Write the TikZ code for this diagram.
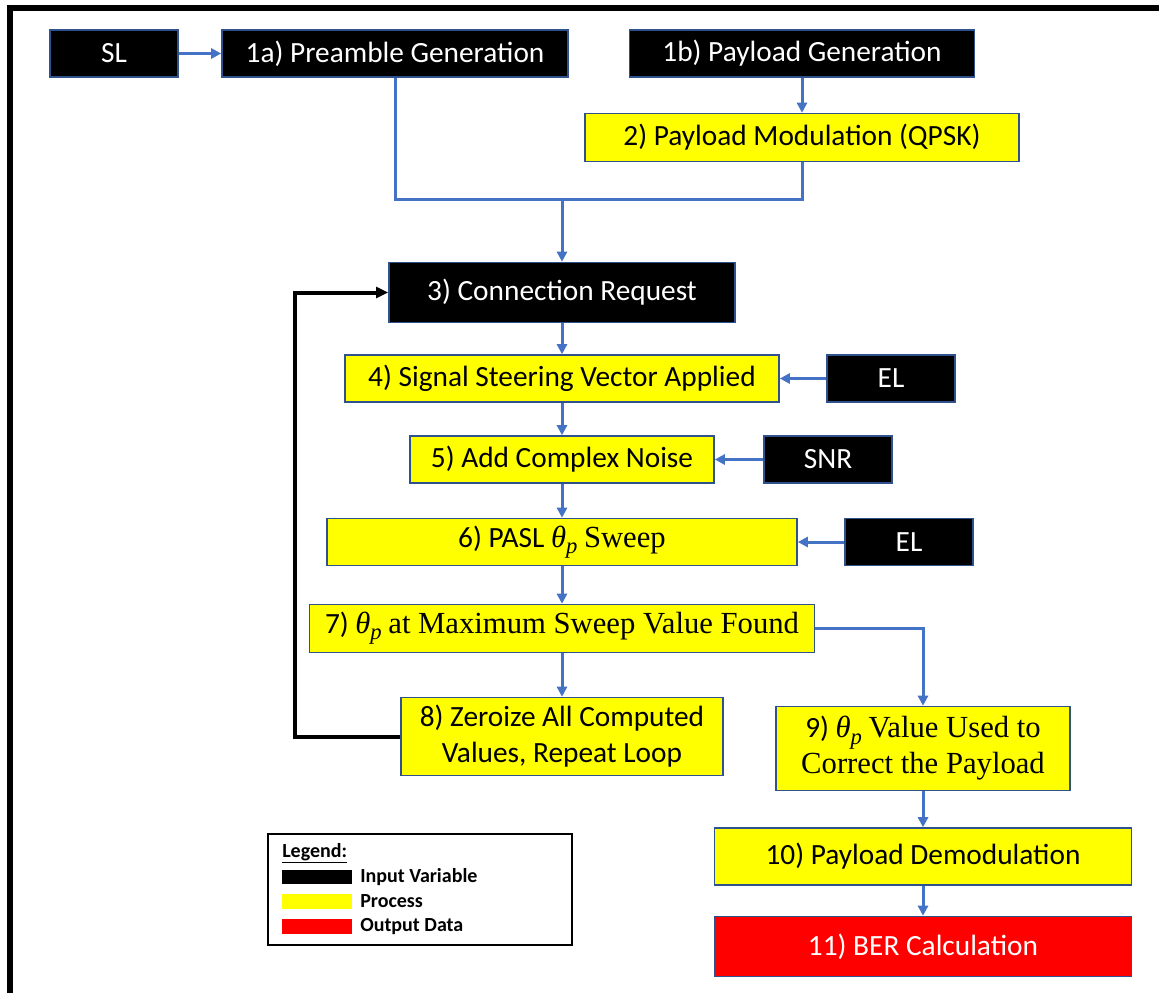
\documentclass[tikz,border=0pt]{standalone}
\usepackage{fontspec}
\setmainfont{Carlito}
\newfontfamily\tnr{Liberation Serif}
\usetikzlibrary{arrows.meta}
\definecolor{flowblue}{HTML}{4472C4}
\definecolor{edgeblue}{HTML}{2F528F}
\definecolor{procyellow}{HTML}{FFFF00}
\definecolor{outred}{HTML}{FF0000}
% serif runs and theta_p in serif italics
\newcommand{\serif}[1]{{\tnr\fontsize{23}{27}\selectfont #1}}
\newcommand{\thp}{{\tnr\itshape\fontsize{23}{27}\selectfont θ}\raisebox{-0.45ex}{\tnr\itshape\fontsize{17}{17}\selectfont p}}
\begin{document}
\begin{tikzpicture}[x=0.75pt,y=-0.75pt,
  wh/.style 2 args={minimum width=#1*0.75pt,minimum height=#2*0.75pt},
  base/.style={draw=edgeblue,line width=1.2pt,inner sep=0pt,align=center,
    font=\fontsize{22}{27}\selectfont},
  inputbox/.style={base,fill=black,text=white},
  procbox/.style={base,fill=procyellow,text=black},
  outbox/.style={base,fill=outred,text=white},
  flow/.style={draw=flowblue,line width=2.25pt},
  flowarrow/.style={flow,-{Triangle[length=7.5pt,width=7.5pt]}},
  looparrow/.style={draw=black,line width=3pt,-{Triangle[length=9pt,width=8pt]}},
  legtext/.style={anchor=west,inner sep=0pt,font=\bfseries\fontsize{15}{18}\selectfont}]
\useasboundingbox (0,0) rectangle (1159,993);
\fill[white] (0,0) rectangle (1159,993);
% outer frame (open to the right and bottom)
\draw[line width=4.5pt] (10,993) -- (10,8) -- (1159,8);

% nodes
\node[inputbox,wh={128}{47}] (sl) at (114,53.5) {SL};
\node[inputbox,wh={346}{47}] (pre) at (395,53.5) {1a) Preamble Generation};
\node[inputbox,wh={345}{47}] (pay) at (802,53.5) {1b) Payload Generation};
\node[procbox,wh={434}{48}] (mod) at (802,137.5) {2) Payload Modulation (QPSK)};
\node[inputbox,wh={346}{60}] (conn) at (562,292.5) {3) Connection Request};
\node[procbox,wh={434}{47}] (steer) at (562,378.5) {4) Signal Steering Vector Applied};
\node[inputbox,wh={128}{47}] (el1) at (891,378.5) {EL};
\node[procbox,wh={304}{47}] (noise) at (562,459.5) {5) Add Complex Noise};
\node[inputbox,wh={128}{47}] (snr) at (828,459.5) {SNR};
\node[procbox,wh={470}{47}] (sweep) at (562,542) {6) PASL \thp{} \serif{Sweep}};
\node[inputbox,wh={128}{47}] (el2) at (909,542) {EL};
\node[procbox,wh={505}{48}] (maxf) at (562,628.5) {7) \thp{} \serif{at Maximum Sweep Value Found}};
\node[procbox,wh={322}{78}] (zero) at (562,736.5) {8) Zeroize All Computed\\Values, Repeat Loop};
\node[procbox,wh={294}{84}] (corr) at (923,748.5) {9) \thp{} \serif{Value Used to}\\\serif{Correct the Payload}};
\node[procbox,wh={417}{57}] (demod) at (923,856.5) {10) Payload Demodulation};
\node[outbox,wh={417}{60}] (ber) at (923,946.5) {11) BER Calculation};

% connectors
\coordinate (join) at (562,199);
\coordinate (loopcorner) at (295,736.5);
\draw[flowarrow] (sl) -- (pre);
\draw[flowarrow] (pay) -- (mod);
\draw[flow] (pre.south) |- (join) -| (mod.south);
\draw[flowarrow] (join) -- (conn.north);
\draw[flowarrow] (conn) -- (steer);
\draw[flowarrow] (steer) -- (noise);
\draw[flowarrow] (noise) -- (sweep);
\draw[flowarrow] (sweep) -- (maxf);
\draw[flowarrow] (maxf) -- (zero);
\draw[flowarrow] (el1) -- (steer);
\draw[flowarrow] (snr) -- (noise);
\draw[flowarrow] (el2) -- (sweep);
\draw[flowarrow] (maxf.east) -| (corr.north);
\draw[flowarrow] (corr) -- (demod);
\draw[flowarrow] (demod) -- (ber);
\draw[looparrow] (zero.west) -- (loopcorner) |- (conn.west);

% legend
\draw[line width=1pt] (268,834) rectangle (572,945);
\node[legtext] (legtitle) at (282,853) {\underline{Legend:}};
\fill[black] (282,870) rectangle (352,884);
\fill[procyellow] (282,894) rectangle (352,909);
\fill[outred] (282,919) rectangle (352,934);
\node[legtext] (leginput) at (360,877) {Input Variable};
\node[legtext] (legproc) at (360,901.5) {Process};
\node[legtext] (legout) at (360,926.5) {Output Data};
\end{tikzpicture}
\end{document}
